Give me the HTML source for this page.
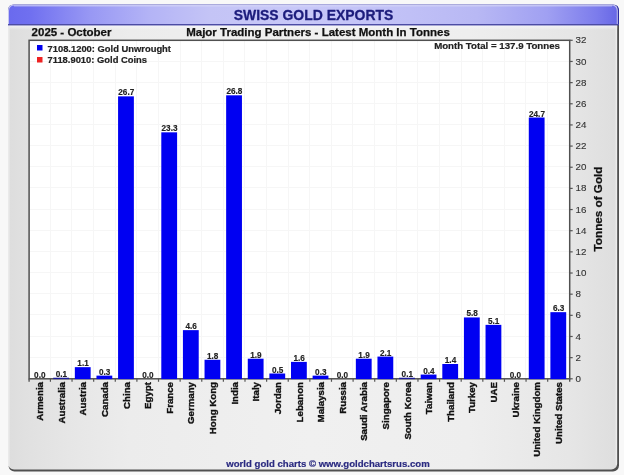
<!DOCTYPE html>
<html><head><meta charset="utf-8"><style>
html,body{margin:0;padding:0;width:624px;height:475px;overflow:hidden;background:#f8f8f8}
svg{display:block;font-family:"Liberation Sans",sans-serif;will-change:transform}
</style></head><body>
<svg width="624" height="475" viewBox="0 0 624 475">
<defs>
<linearGradient id="gtitle" x1="0" y1="0" x2="1" y2="0">
<stop offset="0" stop-color="#6a6aee"/>
<stop offset="0.036" stop-color="#7070f0"/>
<stop offset="0.134" stop-color="#9898f4"/>
<stop offset="0.233" stop-color="#b4b4f6"/>
<stop offset="0.33" stop-color="#c4c4f6"/>
<stop offset="0.48" stop-color="#c8c8f8"/>
<stop offset="0.66" stop-color="#c0c0f6"/>
<stop offset="0.77" stop-color="#b8b8f4"/>
<stop offset="0.885" stop-color="#a0a0f2"/>
<stop offset="0.967" stop-color="#7c7cec"/>
<stop offset="1" stop-color="#6868e6"/>
</linearGradient>
<linearGradient id="gtitlev" x1="0" y1="0" x2="0" y2="1">
<stop offset="0" stop-color="#ffffff" stop-opacity="0.25"/>
<stop offset="0.5" stop-color="#ffffff" stop-opacity="0"/>
<stop offset="1" stop-color="#000040" stop-opacity="0.06"/>
</linearGradient>
<linearGradient id="gunder" x1="0" y1="0" x2="0" y2="1">
<stop offset="0" stop-color="#f6f6fa" stop-opacity="0.9"/>
<stop offset="1" stop-color="#f6f6fa" stop-opacity="0"/>
</linearGradient>
<linearGradient id="gbody" x1="0" y1="0" x2="1" y2="0">
<stop offset="0" stop-color="#dddddd"/>
<stop offset="0.026" stop-color="#e0e0e0"/>
<stop offset="0.10" stop-color="#e6e6e6"/>
<stop offset="0.2" stop-color="#ececec"/>
<stop offset="0.495" stop-color="#f0f0f0"/>
<stop offset="0.757" stop-color="#eeeeee"/>
<stop offset="0.92" stop-color="#e6e6e6"/>
<stop offset="0.97" stop-color="#e1e1e1"/>
<stop offset="1" stop-color="#dedede"/>
</linearGradient>
</defs>
<rect x="0" y="0" width="624" height="475" fill="#f8f8f8"/>
<rect x="8.5" y="5" width="610.5" height="466.5" rx="6" ry="6" fill="#505050"/>
<rect x="8" y="4.5" width="609.2" height="465.1" rx="6" ry="6" fill="url(#gbody)"/>
<rect x="8" y="25" width="609.2" height="5" fill="url(#gunder)"/>
<rect x="8" y="26" width="1.6" height="440" fill="#eaeaea"/>
<rect x="615.6" y="26" width="1.4" height="439" fill="#ececec"/>
<path d="M8 25.2 V10.5 Q8 4.5 14 4.5 H613 Q619 4.5 619 10.5 V25.2 Z" fill="#2a2aa0"/>
<path d="M8 24 V10.5 Q8 4.5 14 4.5 H612 Q617.8 4.5 617.8 10.5 V24 Z" fill="#c8c8f0"/>
<path d="M9 24 V11 Q9 5.5 14.5 5.5 H611.5 Q616.8 5.5 616.8 11 V24 Z" fill="url(#gtitle)"/>
<rect x="14" y="5.3" width="598" height="1.2" fill="#dcdcfa" opacity="0.6"/>
<rect x="8" y="24" width="611" height="1.2" fill="#4c4ca4"/>
<text x="313.5" y="19.8" font-size="13.95" font-weight="bold" fill="#1c1c7c" stroke="#1c1c7c" stroke-width="0.3" text-anchor="middle">SWISS GOLD EXPORTS</text>
<text x="31.6" y="36" font-size="11.5" font-weight="bold" fill="#111" stroke="#111" stroke-width="0.25">2025 - October</text>
<text x="318" y="36" font-size="11.5" font-weight="bold" fill="#111" stroke="#111" stroke-width="0.25" text-anchor="middle">Major Trading Partners - Latest Month In Tonnes</text>
<rect x="29.1" y="40.3" width="540.6" height="338.5" fill="#ffffff"/>
<line x1="50.50" y1="40.3" x2="50.50" y2="378.8" stroke="#f6f6f6" stroke-width="1"/>
<line x1="71.50" y1="40.3" x2="71.50" y2="378.8" stroke="#f6f6f6" stroke-width="1"/>
<line x1="93.50" y1="40.3" x2="93.50" y2="378.8" stroke="#f6f6f6" stroke-width="1"/>
<line x1="115.50" y1="40.3" x2="115.50" y2="378.8" stroke="#f6f6f6" stroke-width="1"/>
<line x1="136.50" y1="40.3" x2="136.50" y2="378.8" stroke="#f6f6f6" stroke-width="1"/>
<line x1="158.50" y1="40.3" x2="158.50" y2="378.8" stroke="#f6f6f6" stroke-width="1"/>
<line x1="180.50" y1="40.3" x2="180.50" y2="378.8" stroke="#f6f6f6" stroke-width="1"/>
<line x1="201.50" y1="40.3" x2="201.50" y2="378.8" stroke="#f6f6f6" stroke-width="1"/>
<line x1="223.50" y1="40.3" x2="223.50" y2="378.8" stroke="#f6f6f6" stroke-width="1"/>
<line x1="244.50" y1="40.3" x2="244.50" y2="378.8" stroke="#f6f6f6" stroke-width="1"/>
<line x1="266.50" y1="40.3" x2="266.50" y2="378.8" stroke="#f6f6f6" stroke-width="1"/>
<line x1="288.50" y1="40.3" x2="288.50" y2="378.8" stroke="#f6f6f6" stroke-width="1"/>
<line x1="309.50" y1="40.3" x2="309.50" y2="378.8" stroke="#f6f6f6" stroke-width="1"/>
<line x1="331.50" y1="40.3" x2="331.50" y2="378.8" stroke="#f6f6f6" stroke-width="1"/>
<line x1="352.50" y1="40.3" x2="352.50" y2="378.8" stroke="#f6f6f6" stroke-width="1"/>
<line x1="374.50" y1="40.3" x2="374.50" y2="378.8" stroke="#f6f6f6" stroke-width="1"/>
<line x1="396.50" y1="40.3" x2="396.50" y2="378.8" stroke="#f6f6f6" stroke-width="1"/>
<line x1="417.50" y1="40.3" x2="417.50" y2="378.8" stroke="#f6f6f6" stroke-width="1"/>
<line x1="439.50" y1="40.3" x2="439.50" y2="378.8" stroke="#f6f6f6" stroke-width="1"/>
<line x1="461.50" y1="40.3" x2="461.50" y2="378.8" stroke="#f6f6f6" stroke-width="1"/>
<line x1="482.50" y1="40.3" x2="482.50" y2="378.8" stroke="#f6f6f6" stroke-width="1"/>
<line x1="504.50" y1="40.3" x2="504.50" y2="378.8" stroke="#f6f6f6" stroke-width="1"/>
<line x1="525.50" y1="40.3" x2="525.50" y2="378.8" stroke="#f6f6f6" stroke-width="1"/>
<line x1="547.50" y1="40.3" x2="547.50" y2="378.8" stroke="#f6f6f6" stroke-width="1"/>
<line x1="29.1" y1="357.50" x2="569.7" y2="357.50" stroke="#f6f6f6" stroke-width="1"/>
<line x1="29.1" y1="336.50" x2="569.7" y2="336.50" stroke="#f6f6f6" stroke-width="1"/>
<line x1="29.1" y1="314.50" x2="569.7" y2="314.50" stroke="#f6f6f6" stroke-width="1"/>
<line x1="29.1" y1="293.50" x2="569.7" y2="293.50" stroke="#f6f6f6" stroke-width="1"/>
<line x1="29.1" y1="272.50" x2="569.7" y2="272.50" stroke="#f6f6f6" stroke-width="1"/>
<line x1="29.1" y1="251.50" x2="569.7" y2="251.50" stroke="#f6f6f6" stroke-width="1"/>
<line x1="29.1" y1="230.50" x2="569.7" y2="230.50" stroke="#f6f6f6" stroke-width="1"/>
<line x1="29.1" y1="209.50" x2="569.7" y2="209.50" stroke="#f6f6f6" stroke-width="1"/>
<line x1="29.1" y1="187.50" x2="569.7" y2="187.50" stroke="#f6f6f6" stroke-width="1"/>
<line x1="29.1" y1="166.50" x2="569.7" y2="166.50" stroke="#f6f6f6" stroke-width="1"/>
<line x1="29.1" y1="145.50" x2="569.7" y2="145.50" stroke="#f6f6f6" stroke-width="1"/>
<line x1="29.1" y1="124.50" x2="569.7" y2="124.50" stroke="#f6f6f6" stroke-width="1"/>
<line x1="29.1" y1="103.50" x2="569.7" y2="103.50" stroke="#f6f6f6" stroke-width="1"/>
<line x1="29.1" y1="82.50" x2="569.7" y2="82.50" stroke="#f6f6f6" stroke-width="1"/>
<line x1="29.1" y1="61.50" x2="569.7" y2="61.50" stroke="#f6f6f6" stroke-width="1"/>
<rect x="29.1" y="40.3" width="540.6" height="338.5" fill="none" stroke="#505050" stroke-width="1.5"/>
<text x="39.81" y="377.80" font-size="8.2" font-weight="bold" fill="#222" stroke="#222" stroke-width="0.15" text-anchor="middle">0.0</text>
<text transform="translate(43.11,382) rotate(-90)" font-size="9.7" font-weight="bold" fill="#111" stroke="#111" stroke-width="0.35" text-anchor="end">Armenia</text>
<rect x="53.22" y="377.74" width="15.8" height="1.36" fill="#1a1a9a"/>
<text x="61.42" y="376.74" font-size="8.2" font-weight="bold" fill="#222" stroke="#222" stroke-width="0.15" text-anchor="middle">0.1</text>
<text transform="translate(64.72,382) rotate(-90)" font-size="9.7" font-weight="bold" fill="#111" stroke="#111" stroke-width="0.35" text-anchor="end">Australia</text>
<rect x="74.84" y="367.16" width="15.8" height="11.94" fill="#0000f2"/>
<text x="83.04" y="366.16" font-size="8.2" font-weight="bold" fill="#222" stroke="#222" stroke-width="0.15" text-anchor="middle">1.1</text>
<text transform="translate(86.34,382) rotate(-90)" font-size="9.7" font-weight="bold" fill="#111" stroke="#111" stroke-width="0.35" text-anchor="end">Austria</text>
<rect x="96.46" y="375.63" width="15.8" height="3.47" fill="#0000f2"/>
<text x="104.66" y="374.63" font-size="8.2" font-weight="bold" fill="#222" stroke="#222" stroke-width="0.15" text-anchor="middle">0.3</text>
<text transform="translate(107.96,382) rotate(-90)" font-size="9.7" font-weight="bold" fill="#111" stroke="#111" stroke-width="0.35" text-anchor="end">Canada</text>
<rect x="118.07" y="96.36" width="15.8" height="282.74" fill="#0000f2"/>
<text x="126.27" y="95.36" font-size="8.2" font-weight="bold" fill="#222" stroke="#222" stroke-width="0.15" text-anchor="middle">26.7</text>
<text transform="translate(129.57,382) rotate(-90)" font-size="9.7" font-weight="bold" fill="#111" stroke="#111" stroke-width="0.35" text-anchor="end">China</text>
<text x="147.89" y="377.80" font-size="8.2" font-weight="bold" fill="#222" stroke="#222" stroke-width="0.15" text-anchor="middle">0.0</text>
<text transform="translate(151.19,382) rotate(-90)" font-size="9.7" font-weight="bold" fill="#111" stroke="#111" stroke-width="0.35" text-anchor="end">Egypt</text>
<rect x="161.30" y="132.33" width="15.8" height="246.77" fill="#0000f2"/>
<text x="169.50" y="131.33" font-size="8.2" font-weight="bold" fill="#222" stroke="#222" stroke-width="0.15" text-anchor="middle">23.3</text>
<text transform="translate(172.80,382) rotate(-90)" font-size="9.7" font-weight="bold" fill="#111" stroke="#111" stroke-width="0.35" text-anchor="end">France</text>
<rect x="182.92" y="330.14" width="15.8" height="48.96" fill="#0000f2"/>
<text x="191.12" y="329.14" font-size="8.2" font-weight="bold" fill="#222" stroke="#222" stroke-width="0.15" text-anchor="middle">4.6</text>
<text transform="translate(194.42,382) rotate(-90)" font-size="9.7" font-weight="bold" fill="#111" stroke="#111" stroke-width="0.35" text-anchor="end">Germany</text>
<rect x="204.54" y="359.76" width="15.8" height="19.34" fill="#0000f2"/>
<text x="212.74" y="358.76" font-size="8.2" font-weight="bold" fill="#222" stroke="#222" stroke-width="0.15" text-anchor="middle">1.8</text>
<text transform="translate(216.04,382) rotate(-90)" font-size="9.7" font-weight="bold" fill="#111" stroke="#111" stroke-width="0.35" text-anchor="end">Hong Kong</text>
<rect x="226.15" y="95.31" width="15.8" height="283.79" fill="#0000f2"/>
<text x="234.35" y="94.31" font-size="8.2" font-weight="bold" fill="#222" stroke="#222" stroke-width="0.15" text-anchor="middle">26.8</text>
<text transform="translate(237.65,382) rotate(-90)" font-size="9.7" font-weight="bold" fill="#111" stroke="#111" stroke-width="0.35" text-anchor="end">India</text>
<rect x="247.77" y="358.70" width="15.8" height="20.40" fill="#0000f2"/>
<text x="255.97" y="357.70" font-size="8.2" font-weight="bold" fill="#222" stroke="#222" stroke-width="0.15" text-anchor="middle">1.9</text>
<text transform="translate(259.27,382) rotate(-90)" font-size="9.7" font-weight="bold" fill="#111" stroke="#111" stroke-width="0.35" text-anchor="end">Italy</text>
<rect x="269.38" y="373.51" width="15.8" height="5.59" fill="#0000f2"/>
<text x="277.58" y="372.51" font-size="8.2" font-weight="bold" fill="#222" stroke="#222" stroke-width="0.15" text-anchor="middle">0.5</text>
<text transform="translate(280.88,382) rotate(-90)" font-size="9.7" font-weight="bold" fill="#111" stroke="#111" stroke-width="0.35" text-anchor="end">Jordan</text>
<rect x="291.00" y="361.88" width="15.8" height="17.23" fill="#0000f2"/>
<text x="299.20" y="360.88" font-size="8.2" font-weight="bold" fill="#222" stroke="#222" stroke-width="0.15" text-anchor="middle">1.6</text>
<text transform="translate(302.50,382) rotate(-90)" font-size="9.7" font-weight="bold" fill="#111" stroke="#111" stroke-width="0.35" text-anchor="end">Lebanon</text>
<rect x="312.62" y="375.63" width="15.8" height="3.47" fill="#0000f2"/>
<text x="320.82" y="374.63" font-size="8.2" font-weight="bold" fill="#222" stroke="#222" stroke-width="0.15" text-anchor="middle">0.3</text>
<text transform="translate(324.12,382) rotate(-90)" font-size="9.7" font-weight="bold" fill="#111" stroke="#111" stroke-width="0.35" text-anchor="end">Malaysia</text>
<text x="342.43" y="377.80" font-size="8.2" font-weight="bold" fill="#222" stroke="#222" stroke-width="0.15" text-anchor="middle">0.0</text>
<text transform="translate(345.73,382) rotate(-90)" font-size="9.7" font-weight="bold" fill="#111" stroke="#111" stroke-width="0.35" text-anchor="end">Russia</text>
<rect x="355.85" y="358.70" width="15.8" height="20.40" fill="#0000f2"/>
<text x="364.05" y="357.70" font-size="8.2" font-weight="bold" fill="#222" stroke="#222" stroke-width="0.15" text-anchor="middle">1.9</text>
<text transform="translate(367.35,382) rotate(-90)" font-size="9.7" font-weight="bold" fill="#111" stroke="#111" stroke-width="0.35" text-anchor="end">Saudi Arabia</text>
<rect x="377.46" y="356.59" width="15.8" height="22.51" fill="#0000f2"/>
<text x="385.66" y="355.59" font-size="8.2" font-weight="bold" fill="#222" stroke="#222" stroke-width="0.15" text-anchor="middle">2.1</text>
<text transform="translate(388.96,382) rotate(-90)" font-size="9.7" font-weight="bold" fill="#111" stroke="#111" stroke-width="0.35" text-anchor="end">Singapore</text>
<rect x="399.08" y="377.74" width="15.8" height="1.36" fill="#1a1a9a"/>
<text x="407.28" y="376.74" font-size="8.2" font-weight="bold" fill="#222" stroke="#222" stroke-width="0.15" text-anchor="middle">0.1</text>
<text transform="translate(410.58,382) rotate(-90)" font-size="9.7" font-weight="bold" fill="#111" stroke="#111" stroke-width="0.35" text-anchor="end">South Korea</text>
<rect x="420.70" y="374.57" width="15.8" height="4.53" fill="#0000f2"/>
<text x="428.90" y="373.57" font-size="8.2" font-weight="bold" fill="#222" stroke="#222" stroke-width="0.15" text-anchor="middle">0.4</text>
<text transform="translate(432.20,382) rotate(-90)" font-size="9.7" font-weight="bold" fill="#111" stroke="#111" stroke-width="0.35" text-anchor="end">Taiwan</text>
<rect x="442.31" y="363.99" width="15.8" height="15.11" fill="#0000f2"/>
<text x="450.51" y="362.99" font-size="8.2" font-weight="bold" fill="#222" stroke="#222" stroke-width="0.15" text-anchor="middle">1.4</text>
<text transform="translate(453.81,382) rotate(-90)" font-size="9.7" font-weight="bold" fill="#111" stroke="#111" stroke-width="0.35" text-anchor="end">Thailand</text>
<rect x="463.93" y="317.45" width="15.8" height="61.65" fill="#0000f2"/>
<text x="472.13" y="316.45" font-size="8.2" font-weight="bold" fill="#222" stroke="#222" stroke-width="0.15" text-anchor="middle">5.8</text>
<text transform="translate(475.43,382) rotate(-90)" font-size="9.7" font-weight="bold" fill="#111" stroke="#111" stroke-width="0.35" text-anchor="end">Turkey</text>
<rect x="485.54" y="324.85" width="15.8" height="54.25" fill="#0000f2"/>
<text x="493.74" y="323.85" font-size="8.2" font-weight="bold" fill="#222" stroke="#222" stroke-width="0.15" text-anchor="middle">5.1</text>
<text transform="translate(497.04,382) rotate(-90)" font-size="9.7" font-weight="bold" fill="#111" stroke="#111" stroke-width="0.35" text-anchor="end">UAE</text>
<text x="515.36" y="377.80" font-size="8.2" font-weight="bold" fill="#222" stroke="#222" stroke-width="0.15" text-anchor="middle">0.0</text>
<text transform="translate(518.66,382) rotate(-90)" font-size="9.7" font-weight="bold" fill="#111" stroke="#111" stroke-width="0.35" text-anchor="end">Ukraine</text>
<rect x="528.78" y="117.52" width="15.8" height="261.58" fill="#0000f2"/>
<text x="536.98" y="116.52" font-size="8.2" font-weight="bold" fill="#222" stroke="#222" stroke-width="0.15" text-anchor="middle">24.7</text>
<text transform="translate(540.28,382) rotate(-90)" font-size="9.7" font-weight="bold" fill="#111" stroke="#111" stroke-width="0.35" text-anchor="end">United Kingdom</text>
<rect x="550.39" y="312.16" width="15.8" height="66.94" fill="#0000f2"/>
<text x="558.59" y="311.16" font-size="8.2" font-weight="bold" fill="#222" stroke="#222" stroke-width="0.15" text-anchor="middle">6.3</text>
<text transform="translate(561.89,382) rotate(-90)" font-size="9.7" font-weight="bold" fill="#111" stroke="#111" stroke-width="0.35" text-anchor="end">United States</text>
<line x1="50.42" y1="378.8" x2="50.42" y2="381.8" stroke="#555" stroke-width="1.2"/>
<line x1="72.04" y1="378.8" x2="72.04" y2="381.8" stroke="#555" stroke-width="1.2"/>
<line x1="93.66" y1="378.8" x2="93.66" y2="381.8" stroke="#555" stroke-width="1.2"/>
<line x1="115.28" y1="378.8" x2="115.28" y2="381.8" stroke="#555" stroke-width="1.2"/>
<line x1="136.90" y1="378.8" x2="136.90" y2="381.8" stroke="#555" stroke-width="1.2"/>
<line x1="158.52" y1="378.8" x2="158.52" y2="381.8" stroke="#555" stroke-width="1.2"/>
<line x1="180.14" y1="378.8" x2="180.14" y2="381.8" stroke="#555" stroke-width="1.2"/>
<line x1="201.76" y1="378.8" x2="201.76" y2="381.8" stroke="#555" stroke-width="1.2"/>
<line x1="223.38" y1="378.8" x2="223.38" y2="381.8" stroke="#555" stroke-width="1.2"/>
<line x1="245.00" y1="378.8" x2="245.00" y2="381.8" stroke="#555" stroke-width="1.2"/>
<line x1="266.62" y1="378.8" x2="266.62" y2="381.8" stroke="#555" stroke-width="1.2"/>
<line x1="288.24" y1="378.8" x2="288.24" y2="381.8" stroke="#555" stroke-width="1.2"/>
<line x1="309.86" y1="378.8" x2="309.86" y2="381.8" stroke="#555" stroke-width="1.2"/>
<line x1="331.48" y1="378.8" x2="331.48" y2="381.8" stroke="#555" stroke-width="1.2"/>
<line x1="353.10" y1="378.8" x2="353.10" y2="381.8" stroke="#555" stroke-width="1.2"/>
<line x1="374.72" y1="378.8" x2="374.72" y2="381.8" stroke="#555" stroke-width="1.2"/>
<line x1="396.34" y1="378.8" x2="396.34" y2="381.8" stroke="#555" stroke-width="1.2"/>
<line x1="417.96" y1="378.8" x2="417.96" y2="381.8" stroke="#555" stroke-width="1.2"/>
<line x1="439.58" y1="378.8" x2="439.58" y2="381.8" stroke="#555" stroke-width="1.2"/>
<line x1="461.20" y1="378.8" x2="461.20" y2="381.8" stroke="#555" stroke-width="1.2"/>
<line x1="482.82" y1="378.8" x2="482.82" y2="381.8" stroke="#555" stroke-width="1.2"/>
<line x1="504.44" y1="378.8" x2="504.44" y2="381.8" stroke="#555" stroke-width="1.2"/>
<line x1="526.06" y1="378.8" x2="526.06" y2="381.8" stroke="#555" stroke-width="1.2"/>
<line x1="547.68" y1="378.8" x2="547.68" y2="381.8" stroke="#555" stroke-width="1.2"/>
<line x1="29.1" y1="378.8" x2="29.1" y2="381.8" stroke="#555" stroke-width="1.4"/>
<line x1="569.7" y1="378.8" x2="569.7" y2="381.8" stroke="#555" stroke-width="1.4"/>
<line x1="569.7" y1="378.80" x2="572.7" y2="378.80" stroke="#555" stroke-width="1.2"/>
<text x="575.5" y="381.90" font-size="9.8" fill="#333" stroke="#333" stroke-width="0.12">0</text>
<line x1="569.7" y1="357.64" x2="572.7" y2="357.64" stroke="#555" stroke-width="1.2"/>
<text x="575.5" y="360.74" font-size="9.8" fill="#333" stroke="#333" stroke-width="0.12">2</text>
<line x1="569.7" y1="336.49" x2="572.7" y2="336.49" stroke="#555" stroke-width="1.2"/>
<text x="575.5" y="339.59" font-size="9.8" fill="#333" stroke="#333" stroke-width="0.12">4</text>
<line x1="569.7" y1="315.33" x2="572.7" y2="315.33" stroke="#555" stroke-width="1.2"/>
<text x="575.5" y="318.43" font-size="9.8" fill="#333" stroke="#333" stroke-width="0.12">6</text>
<line x1="569.7" y1="294.18" x2="572.7" y2="294.18" stroke="#555" stroke-width="1.2"/>
<text x="575.5" y="297.28" font-size="9.8" fill="#333" stroke="#333" stroke-width="0.12">8</text>
<line x1="569.7" y1="273.02" x2="572.7" y2="273.02" stroke="#555" stroke-width="1.2"/>
<text x="575.5" y="276.12" font-size="9.8" fill="#333" stroke="#333" stroke-width="0.12">10</text>
<line x1="569.7" y1="251.86" x2="572.7" y2="251.86" stroke="#555" stroke-width="1.2"/>
<text x="575.5" y="254.96" font-size="9.8" fill="#333" stroke="#333" stroke-width="0.12">12</text>
<line x1="569.7" y1="230.71" x2="572.7" y2="230.71" stroke="#555" stroke-width="1.2"/>
<text x="575.5" y="233.81" font-size="9.8" fill="#333" stroke="#333" stroke-width="0.12">14</text>
<line x1="569.7" y1="209.55" x2="572.7" y2="209.55" stroke="#555" stroke-width="1.2"/>
<text x="575.5" y="212.65" font-size="9.8" fill="#333" stroke="#333" stroke-width="0.12">16</text>
<line x1="569.7" y1="188.39" x2="572.7" y2="188.39" stroke="#555" stroke-width="1.2"/>
<text x="575.5" y="191.49" font-size="9.8" fill="#333" stroke="#333" stroke-width="0.12">18</text>
<line x1="569.7" y1="167.24" x2="572.7" y2="167.24" stroke="#555" stroke-width="1.2"/>
<text x="575.5" y="170.34" font-size="9.8" fill="#333" stroke="#333" stroke-width="0.12">20</text>
<line x1="569.7" y1="146.08" x2="572.7" y2="146.08" stroke="#555" stroke-width="1.2"/>
<text x="575.5" y="149.18" font-size="9.8" fill="#333" stroke="#333" stroke-width="0.12">22</text>
<line x1="569.7" y1="124.93" x2="572.7" y2="124.93" stroke="#555" stroke-width="1.2"/>
<text x="575.5" y="128.03" font-size="9.8" fill="#333" stroke="#333" stroke-width="0.12">24</text>
<line x1="569.7" y1="103.77" x2="572.7" y2="103.77" stroke="#555" stroke-width="1.2"/>
<text x="575.5" y="106.87" font-size="9.8" fill="#333" stroke="#333" stroke-width="0.12">26</text>
<line x1="569.7" y1="82.61" x2="572.7" y2="82.61" stroke="#555" stroke-width="1.2"/>
<text x="575.5" y="85.71" font-size="9.8" fill="#333" stroke="#333" stroke-width="0.12">28</text>
<line x1="569.7" y1="61.46" x2="572.7" y2="61.46" stroke="#555" stroke-width="1.2"/>
<text x="575.5" y="64.56" font-size="9.8" fill="#333" stroke="#333" stroke-width="0.12">30</text>
<line x1="569.7" y1="40.30" x2="572.7" y2="40.30" stroke="#555" stroke-width="1.2"/>
<text x="575.5" y="43.40" font-size="9.8" fill="#333" stroke="#333" stroke-width="0.12">32</text>
<rect x="37" y="45" width="5.5" height="5.5" fill="#0000ee"/>
<text x="47.5" y="51.5" font-size="9.4" font-weight="bold" fill="#222" stroke="#222" stroke-width="0.2">7108.1200: Gold Unwrought</text>
<rect x="37" y="57" width="5.5" height="5.5" fill="#ee2222"/>
<text x="47.5" y="63" font-size="9.4" font-weight="bold" fill="#222" stroke="#222" stroke-width="0.2">7118.9010: Gold Coins</text>
<text x="560" y="49.3" font-size="9.7" font-weight="bold" fill="#222" stroke="#222" stroke-width="0.2" text-anchor="end">Month Total = 137.9 Tonnes</text>
<text transform="translate(601.5,209) rotate(-90)" font-size="11.7" font-weight="bold" fill="#111" stroke="#111" stroke-width="0.25" text-anchor="middle">Tonnes of Gold</text>
<text x="328" y="467" font-size="9.6" font-weight="bold" fill="#2a2a80" stroke="#2a2a80" stroke-width="0.2" text-anchor="middle">world gold charts © www.goldchartsrus.com</text>
</svg>
</body></html>
